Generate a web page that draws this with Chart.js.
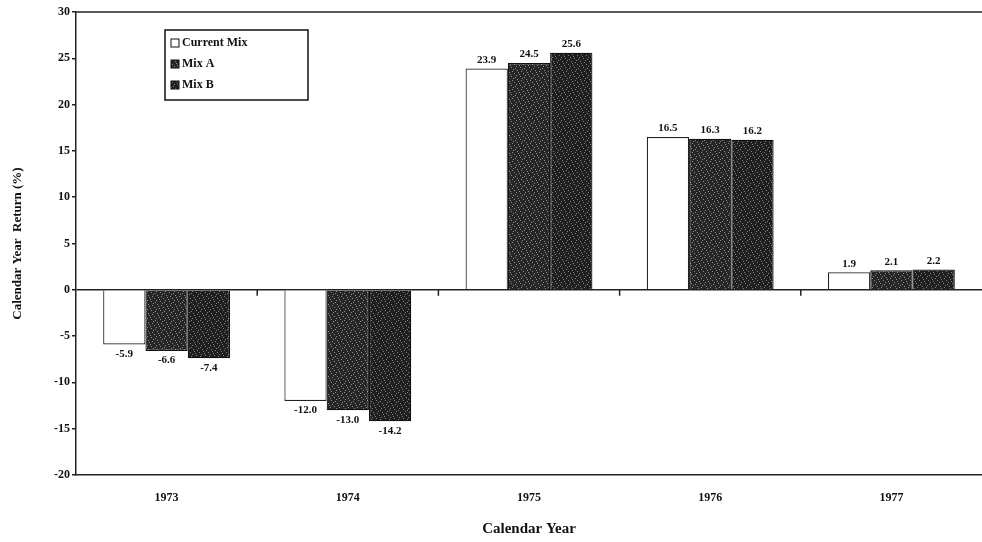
<!DOCTYPE html>
<html>
<head>
<meta charset="utf-8">
<script src="https://cdn.jsdelivr.net/npm/chart.js@4.4.1/dist/chart.umd.min.js"></script>
<style>
  html, body { margin: 0; padding: 0; background: #ffffff; }
  #wrap { width: 982px; height: 542px; }
</style>
</head>
<body>
<div id="wrap"><canvas id="c" width="982" height="542"></canvas></div>
<script>
// Calendar-year returns (%) for each asset mix
const years = ['1973', '1974', '1975', '1976', '1977'];
const currentMix = [-5.9, -12.0, 23.9, 16.5, 1.9];
const mixA = [-6.6, -13.0, 24.5, 16.3, 2.1];
const mixB = [-7.4, -14.2, 25.6, 16.2, 2.2];
const yTicks = [30, 25, 20, 15, 10, 5, 0, -5, -10, -15, -20];

const FONT = '"Liberation Serif", "DejaVu Serif", serif';

// Dark speckled fill for the mix bars (fixed dot layout)
function speckle(base, dot) {
  const c = document.createElement('canvas');
  c.width = 9; c.height = 9;
  const g = c.getContext('2d');
  g.fillStyle = base;
  g.fillRect(0, 0, 9, 9);
  g.fillStyle = dot;
  const dots = [[1,1],[5,0],[3,3],[7,4],[0,6],[4,7],[8,8],[6,2],[2,5]];
  dots.forEach(([x, y]) => g.fillRect(x, y, 1, 1));
  return g.createPattern(c, 'repeat');
}
const patA = speckle('#262626', '#8e8e8e');
const patB = speckle('#1f1f1f', '#808080');

// Value labels above positive bars and below negative ones
const valueLabels = {
  id: 'valueLabels',
  afterDatasetsDraw(chart) {
    const ctx = chart.ctx;
    ctx.save();
    ctx.font = 'bold 11px ' + FONT;
    ctx.fillStyle = '#111';
    ctx.textAlign = 'center';
    chart.data.datasets.forEach((ds, i) => {
      const meta = chart.getDatasetMeta(i);
      meta.data.forEach((bar, j) => {
        const v = ds.data[j];
        const txt = v.toFixed(1);
        if (v >= 0) {
          ctx.textBaseline = 'bottom';
          ctx.fillText(txt, bar.x, bar.y - 3);
        } else {
          ctx.textBaseline = 'top';
          ctx.fillText(txt, bar.x, bar.y + 4);
        }
      });
    });
    ctx.restore();
  }
};

// Boxed legend inside the plot, plus top frame line and zero-line ticks
const frameAndLegend = {
  id: 'frameAndLegend',
  afterDraw(chart) {
    const ctx = chart.ctx;
    const a = chart.chartArea;
    const x = chart.scales.x;
    const y = chart.scales.y;
    ctx.save();
    // top frame
    ctx.strokeStyle = '#222';
    ctx.lineWidth = 1.5;
    ctx.beginPath();
    ctx.moveTo(a.left, a.top);
    ctx.lineTo(a.right, a.top);
    ctx.stroke();
    // small ticks on the zero line between year groups
    const y0 = y.getPixelForValue(0);
    ctx.lineWidth = 1.5;
    for (let i = 0; i < years.length - 1; i++) {
      const xm = (x.getPixelForValue(i) + x.getPixelForValue(i + 1)) / 2;
      ctx.beginPath();
      ctx.moveTo(xm, y0);
      ctx.lineTo(xm, y0 + 6);
      ctx.stroke();
    }
    // legend box
    const lx = a.left + 89, ly = a.top + 18, lw = 143, lh = 70;
    ctx.fillStyle = '#fff';
    ctx.fillRect(lx, ly, lw, lh);
    ctx.lineWidth = 1.5;
    ctx.strokeStyle = '#111';
    ctx.strokeRect(lx, ly, lw, lh);
    ctx.font = 'bold 12px ' + FONT;
    ctx.textBaseline = 'middle';
    ctx.textAlign = 'left';
    chart.data.datasets.forEach((ds, i) => {
      const ry = ly + 13 + i * 21;
      ctx.fillStyle = ds.backgroundColor;
      ctx.fillRect(lx + 6, ry - 4, 8, 8);
      ctx.lineWidth = 1;
      ctx.strokeStyle = '#111';
      ctx.strokeRect(lx + 6, ry - 4, 8, 8);
      ctx.fillStyle = '#111';
      ctx.fillText(ds.label, lx + 17, ry);
    });
    ctx.restore();
  }
};

new Chart(document.getElementById('c'), {
  type: 'bar',
  data: {
    labels: years,
    datasets: [
      { label: 'Current Mix', data: currentMix, backgroundColor: '#ffffff', borderColor: '#222', borderWidth: 1.2 },
      { label: 'Mix A', data: mixA, backgroundColor: patA, borderColor: '#111', borderWidth: 1.2 },
      { label: 'Mix B', data: mixB, backgroundColor: patB, borderColor: '#111', borderWidth: 1.2 }
    ]
  },
  options: {
    responsive: false,
    animation: false,
    layout: { padding: { top: 12, right: 0, left: 6, bottom: 0 } },
    datasets: { bar: { categoryPercentage: 0.7, barPercentage: 1.0 } },
    plugins: {
      legend: { display: false },
      tooltip: { enabled: false }
    },
    scales: {
      x: {
        grid: { display: false, drawTicks: false },
        border: { display: true, color: '#222', width: 1.5 },
        ticks: { color: '#111', font: { family: FONT, size: 12, weight: 'bold' }, padding: 16 },
        title: { display: true, text: 'Calendar Year', color: '#111', font: { family: FONT, size: 15, weight: 'bold' }, padding: { top: 8 } },
        afterFit(s) { s.height = 67; }
      },
      y: {
        min: -20, max: 30,
        afterBuildTicks(s) { s.ticks = yTicks.map(v => ({ value: v })); },
        grid: {
          color: c => (c.tick && c.tick.value === 0) ? '#222' : 'transparent',
          lineWidth: 1.5,
          drawTicks: true,
          tickLength: 4,
          tickColor: '#222'
        },
        border: { display: true, color: '#222', width: 1.5 },
        ticks: { color: '#111', font: { family: FONT, size: 12, weight: 'bold' }, padding: 2 },
        title: { display: true, text: 'Calendar Year  Return (%)', color: '#111', font: { family: FONT, size: 13, weight: 'bold' }, padding: { bottom: 8 } },
        afterFit(s) { s.width = 70; }
      }
    }
  },
  plugins: [valueLabels, frameAndLegend]
});
</script>
</body>
</html>
